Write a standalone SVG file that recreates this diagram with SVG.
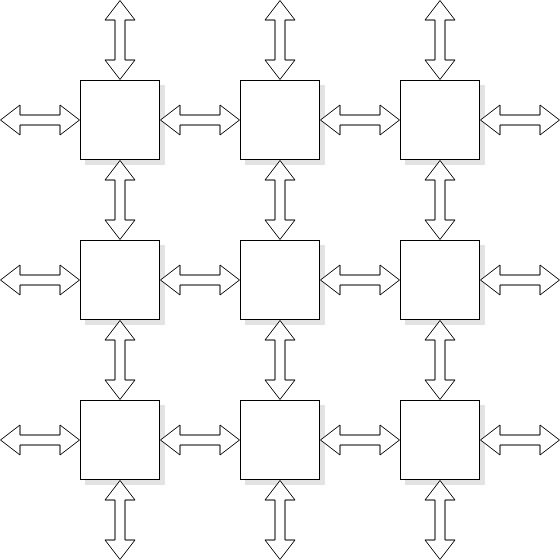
<svg xmlns="http://www.w3.org/2000/svg" xmlns:xlink="http://www.w3.org/1999/xlink" width="560" height="560" viewBox="0 0 560 560">
<style>
.box{fill:#fff;stroke:#000;stroke-width:1}
.sh{fill:#e3e3e3;stroke:none}
.arr{fill:#fff;stroke:#000;stroke-width:1;stroke-linejoin:miter}
</style>
<defs>
<path id="ha" d="M0.5,0 L20,-15 L20,-5 L60,-5 L60,-15 L79.5,0 L60,15 L60,5 L20,5 L20,15 Z"/>
</defs>
<rect width="560" height="560" fill="#fff"/>
<g id="n11"><rect class="sh" x="85" y="85" width="80" height="80"/><rect class="box" x="80.5" y="80.5" width="79" height="79"/></g>
<g id="n12"><rect class="sh" x="245" y="85" width="80" height="80"/><rect class="box" x="240.5" y="80.5" width="79" height="79"/></g>
<g id="n13"><rect class="sh" x="405" y="85" width="80" height="80"/><rect class="box" x="400.5" y="80.5" width="79" height="79"/></g>
<g id="n21"><rect class="sh" x="85" y="245" width="80" height="80"/><rect class="box" x="80.5" y="240.5" width="79" height="79"/></g>
<g id="n22"><rect class="sh" x="245" y="245" width="80" height="80"/><rect class="box" x="240.5" y="240.5" width="79" height="79"/></g>
<g id="n23"><rect class="sh" x="405" y="245" width="80" height="80"/><rect class="box" x="400.5" y="240.5" width="79" height="79"/></g>
<g id="n31"><rect class="sh" x="85" y="405" width="80" height="80"/><rect class="box" x="80.5" y="400.5" width="79" height="79"/></g>
<g id="n32"><rect class="sh" x="245" y="405" width="80" height="80"/><rect class="box" x="240.5" y="400.5" width="79" height="79"/></g>
<g id="n33"><rect class="sh" x="405" y="405" width="80" height="80"/><rect class="box" x="400.5" y="400.5" width="79" height="79"/></g>
<g id="connectors" class="arr">
<use xlink:href="#ha" href="#ha" transform="translate(0,120)"/>
<use xlink:href="#ha" href="#ha" transform="translate(160,120)"/>
<use xlink:href="#ha" href="#ha" transform="translate(320,120)"/>
<use xlink:href="#ha" href="#ha" transform="translate(480,120)"/>
<use xlink:href="#ha" href="#ha" transform="translate(0,280)"/>
<use xlink:href="#ha" href="#ha" transform="translate(160,280)"/>
<use xlink:href="#ha" href="#ha" transform="translate(320,280)"/>
<use xlink:href="#ha" href="#ha" transform="translate(480,280)"/>
<use xlink:href="#ha" href="#ha" transform="translate(0,440)"/>
<use xlink:href="#ha" href="#ha" transform="translate(160,440)"/>
<use xlink:href="#ha" href="#ha" transform="translate(320,440)"/>
<use xlink:href="#ha" href="#ha" transform="translate(480,440)"/>
<use xlink:href="#ha" href="#ha" transform="translate(120,0) rotate(90)"/>
<use xlink:href="#ha" href="#ha" transform="translate(120,160) rotate(90)"/>
<use xlink:href="#ha" href="#ha" transform="translate(120,320) rotate(90)"/>
<use xlink:href="#ha" href="#ha" transform="translate(120,480) rotate(90)"/>
<use xlink:href="#ha" href="#ha" transform="translate(280,0) rotate(90)"/>
<use xlink:href="#ha" href="#ha" transform="translate(280,160) rotate(90)"/>
<use xlink:href="#ha" href="#ha" transform="translate(280,320) rotate(90)"/>
<use xlink:href="#ha" href="#ha" transform="translate(280,480) rotate(90)"/>
<use xlink:href="#ha" href="#ha" transform="translate(440,0) rotate(90)"/>
<use xlink:href="#ha" href="#ha" transform="translate(440,160) rotate(90)"/>
<use xlink:href="#ha" href="#ha" transform="translate(440,320) rotate(90)"/>
<use xlink:href="#ha" href="#ha" transform="translate(440,480) rotate(90)"/>
</g>
</svg>
